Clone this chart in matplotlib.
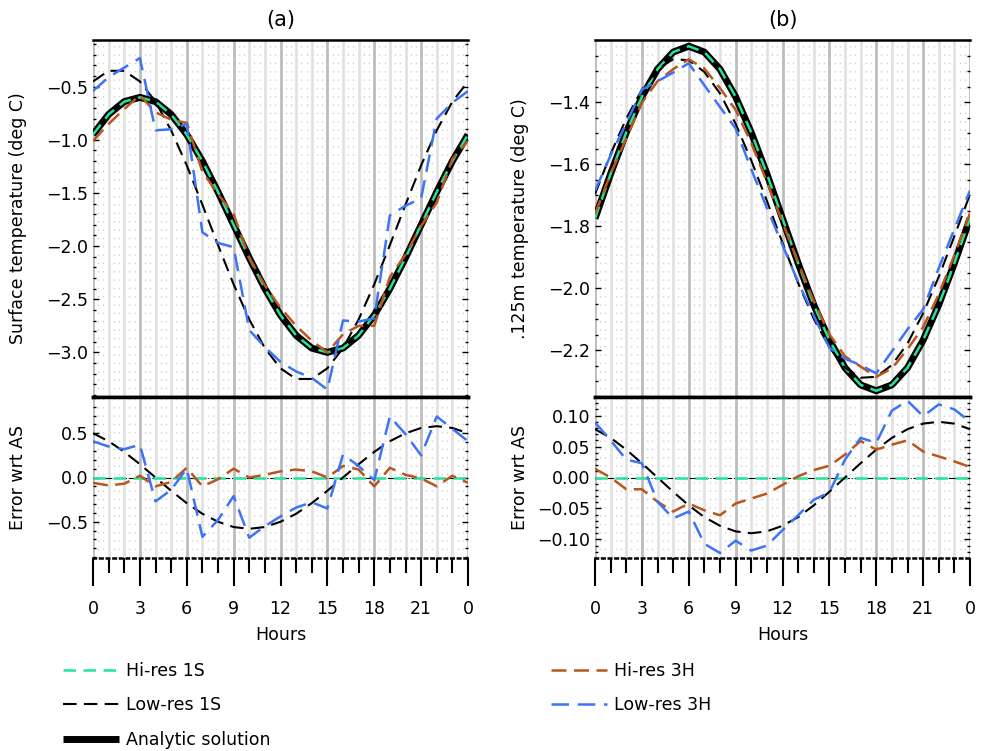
import numpy as np
import matplotlib
matplotlib.use("Agg")
import matplotlib.pyplot as plt
from matplotlib.ticker import MultipleLocator, FixedLocator, FuncFormatter

plt.rcParams['font.family'] = ['DejaVu Sans']
plt.rcParams['font.size'] = 12.5

# ===== data =====
hours = list(range(25))
x_tick_pos = [0, 3, 6, 9, 12, 15, 18, 21, 24]
x_tick_labels = ["0", "3", "6", "9", "12", "15", "18", "21", "0"]

# (a) surface temperature (deg C)
analytic_a = [-0.95, -0.76, -0.64, -0.60, -0.64, -0.76, -0.95, -1.20, -1.49, -1.80,
              -2.11, -2.40, -2.65, -2.84, -2.96, -3.00, -2.96, -2.84, -2.65, -2.40,
              -2.11, -1.80, -1.49, -1.20, -0.95]
hires_1s_a = [-0.95, -0.76, -0.64, -0.60, -0.64, -0.76, -0.95, -1.20, -1.49, -1.80,
              -2.11, -2.40, -2.65, -2.84, -2.96, -3.00, -2.96, -2.84, -2.65, -2.40,
              -2.11, -1.80, -1.49, -1.20, -0.95]
lowres_1s_a = [-0.45, -0.35, -0.35, -0.45, -0.64, -0.91, -1.24, -1.61, -1.99, -2.36,
               -2.69, -2.96, -3.15, -3.25, -3.25, -3.15, -2.96, -2.69, -2.36, -1.99,
               -1.61, -1.24, -0.91, -0.64, -0.45]
hires_3h_a = [-1.01, -0.85, -0.71, -0.58, -0.74, -0.81, -0.84, -1.30, -1.51, -1.70,
              -2.11, -2.37, -2.58, -2.75, -2.89, -3.00, -2.83, -2.75, -2.75, -2.29,
              -2.08, -1.81, -1.59, -1.18, -1.01]
lowres_3h_a = [-0.54, -0.41, -0.32, -0.23, -0.91, -0.90, -0.85, -1.87, -1.97, -2.01,
               -2.79, -2.95, -3.09, -3.18, -3.24, -3.35, -2.70, -2.71, -2.68, -1.71,
               -1.62, -1.55, -0.80, -0.65, -0.54]

# (b) .125m temperature (deg C)
analytic_b = [-1.775, -1.631, -1.498, -1.383, -1.294, -1.239, -1.220, -1.239, -1.294,
              -1.383, -1.498, -1.631, -1.775, -1.919, -2.053, -2.167, -2.256, -2.311,
              -2.330, -2.311, -2.256, -2.167, -2.053, -1.919, -1.775]
hires_1s_b = [-1.775, -1.631, -1.498, -1.383, -1.294, -1.239, -1.220, -1.239, -1.294,
              -1.383, -1.498, -1.631, -1.775, -1.919, -2.053, -2.167, -2.256, -2.311,
              -2.330, -2.311, -2.256, -2.167, -2.053, -1.919, -1.775]
lowres_1s_b = [-1.697, -1.567, -1.453, -1.360, -1.294, -1.262, -1.265, -1.303, -1.372,
               -1.470, -1.588, -1.718, -1.853, -1.983, -2.098, -2.190, -2.256, -2.288,
               -2.285, -2.247, -2.178, -2.080, -1.963, -1.832, -1.697]
hires_3h_b = [-1.761, -1.631, -1.517, -1.402, -1.333, -1.294, -1.262, -1.292, -1.355,
              -1.425, -1.532, -1.657, -1.787, -1.917, -2.041, -2.148, -2.219, -2.252,
              -2.285, -2.258, -2.196, -2.125, -2.019, -1.893, -1.758]
lowres_3h_b = [-1.686, -1.571, -1.469, -1.360, -1.333, -1.305, -1.275, -1.346, -1.416,
               -1.485, -1.616, -1.741, -1.860, -1.980, -2.089, -2.191, -2.227, -2.247,
               -2.274, -2.203, -2.132, -2.068, -1.935, -1.809, -1.685]

GREEN = "#22E59A"
BROWN = "#B8561E"
BLUE = "#3D74F5"

series_style = {
    "Hi-res 1S": dict(color=GREEN, lw=1.8, ls=(0, (5, 3))),
    "Low-res 1S": dict(color="black", lw=1.5, ls=(0, (6.5, 3.5))),
    "Hi-res 3H": dict(color=BROWN, lw=1.8, ls=(0, (6, 3))),
    "Low-res 3H": dict(color=BLUE, lw=1.8, ls=(0, (7, 3.5))),
}


def minus(fmt):
    return FuncFormatter(lambda v, p: (fmt % v).replace("-", "\u2212"))


def style_hours(ax, bottom):
    ax.set_xlim(0, 24)
    ax.xaxis.set_major_locator(FixedLocator(x_tick_pos))
    ax.xaxis.set_minor_locator(MultipleLocator(1))
    ax.grid(True, which="minor", axis="x", color="#E2E2E2", lw=2, zorder=0)
    ax.grid(True, which="major", axis="x", color="#BDBDBD", lw=2, zorder=0)
    for h in range(24):
        for f in (1 / 3, 2 / 3):
            ax.axvline(h + f, color="#CFCFCF", lw=1.0, ls=(0, (1, 5)), zorder=0)
    ax.set_axisbelow(True)
    for s in ("left", "right"):
        ax.spines[s].set_visible(False)
    ax.tick_params(axis="y", which="both", direction="in", left=True, right=True,
                   width=1, colors="black")
    ax.tick_params(axis="y", which="major", length=4.5)
    ax.tick_params(axis="y", which="minor", length=2.2)
    if bottom:
        ax.set_xticklabels(x_tick_labels)
        ax.tick_params(axis="x", which="major", direction="out", length=20, width=1.5, pad=10)
        ax.tick_params(axis="x", which="minor", direction="out", length=11, width=1.5)
        ax.spines["top"].set_linewidth(2.5)
        ax.spines["bottom"].set_linestyle(":")
        ax.spines["bottom"].set_linewidth(1.8)
        ax.set_xlabel("Hours", labelpad=6)
    else:
        ax.tick_params(axis="x", which="both", length=0, labelbottom=False)
        ax.spines["top"].set_linewidth(1.8)
        ax.spines["bottom"].set_linewidth(2.5)


def draw_panel(fig, left, title, ylabel, analytic, runs, ylim_top, ylim_err,
               top_major, top_minor, top_fmt, err_major, err_minor, err_fmt):
    width = 375 / 981
    ax_t = fig.add_axes([left, 1 - 397 / 751, width, 357 / 751])
    ax_e = fig.add_axes([left, 1 - 558 / 751, width, 161 / 751])

    ax_t.plot(hours, analytic, color="black", lw=5, solid_capstyle="butt",
              solid_joinstyle="round", label="Analytic solution", zorder=3)
    for name, vals in runs.items():
        ax_t.plot(hours, vals, label=name, zorder=4, dash_joinstyle="round",
                  **series_style[name])
    ax_t.set_ylim(*ylim_top)
    ax_t.yaxis.set_major_locator(FixedLocator(top_major))
    ax_t.yaxis.set_minor_locator(MultipleLocator(top_minor))
    ax_t.yaxis.set_major_formatter(minus(top_fmt))
    ax_t.set_ylabel(ylabel)
    ax_t.yaxis.set_label_coords(-0.176, 0.5)
    ax_t.set_title(title, pad=10)
    style_hours(ax_t, bottom=False)

    ax_e.axhline(0, color="black", lw=0.8, ls="-.", zorder=2)
    for name, vals in runs.items():
        err = np.array(vals) - np.array(analytic)
        ax_e.plot(hours, err, zorder=4, dash_joinstyle="round", **series_style[name])
    ax_e.set_ylim(*ylim_err)
    ax_e.yaxis.set_major_locator(FixedLocator(err_major))
    ax_e.yaxis.set_minor_locator(MultipleLocator(err_minor))
    ax_e.yaxis.set_major_formatter(minus(err_fmt))
    ax_e.set_ylabel("Error wrt AS")
    ax_e.yaxis.set_label_coords(-0.176, 0.5)
    style_hours(ax_e, bottom=True)
    return ax_t


fig = plt.figure(figsize=(9.81, 7.51), dpi=100)

runs_a = {"Hi-res 1S": hires_1s_a, "Low-res 1S": lowres_1s_a,
          "Hi-res 3H": hires_3h_a, "Low-res 3H": lowres_3h_a}
runs_b = {"Hi-res 1S": hires_1s_b, "Low-res 1S": lowres_1s_b,
          "Hi-res 3H": hires_3h_b, "Low-res 3H": lowres_3h_b}

ax_a = draw_panel(fig, 93 / 981, "(a)", "Surface temperature (deg C)", analytic_a, runs_a,
                  (-3.42, -0.06), (-0.91, 0.91),
                  [-3.0, -2.5, -2.0, -1.5, -1.0, -0.5], 0.1, "%.1f",
                  [-0.5, 0.0, 0.5], 0.1, "%.1f")
draw_panel(fig, 595 / 981, "(b)", ".125m temperature (deg C)", analytic_b, runs_b,
           (-2.35, -1.2), (-0.13, 0.13),
           [-2.2, -2.0, -1.8, -1.6, -1.4], 0.05, "%.1f",
           [-0.10, -0.05, 0.0, 0.05, 0.10], 0.01, "%.2f")

handles, labels = ax_a.get_legend_handles_labels()
order = ["Hi-res 1S", "Low-res 1S", "Analytic solution", "Hi-res 3H", "Low-res 3H"]
hmap = dict(zip(labels, handles))
fig.legend([hmap[k] for k in order], order, loc="upper left",
           bbox_to_anchor=(63 / 981, 1 - 662 / 751), ncol=2, frameon=False,
           handlelength=3.2, handletextpad=0.4, columnspacing=16.2,
           labelspacing=0.95, borderaxespad=0, borderpad=0)

fig.savefig("out.png", dpi=100)
